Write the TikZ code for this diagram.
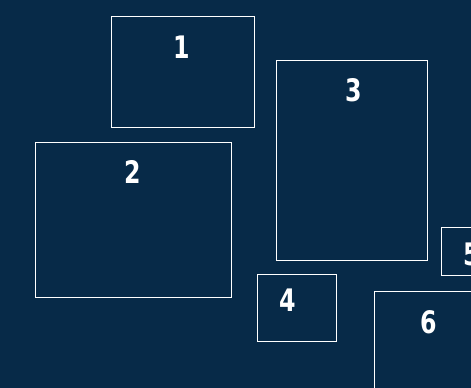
\documentclass[tikz,border=0pt]{standalone}
\usepackage{fontspec}
\newfontfamily\labelfont{DejaVu Sans Condensed}[BoldFont={DejaVu Sans Condensed Bold},BoldFeatures={FakeStretch=0.85}]
\definecolor{bgnavy}{RGB}{7,42,72}
\begin{document}
\begin{tikzpicture}[x=1pt,y=-1pt,
  panel/.style={draw=white,line width=1.1pt},
  num/.style={text=white,font=\labelfont\bfseries\fontsize{31}{31}\selectfont,inner sep=0pt,anchor=center}]
\fill[bgnavy] (0,0) rectangle (471,388);
\useasboundingbox (0,0) rectangle (471,388);
\begin{scope}
\clip (0,0) rectangle (471,388);
\draw[panel] (111.5,16.5) rectangle (254.5,127.5);
\draw[panel] (35.5,142.5) rectangle (231.5,297.5);
\draw[panel] (276.5,60.5) rectangle (427.5,260.5);
\draw[panel] (257.5,274.5) rectangle (336.5,341.5);
\draw[panel] (441.5,227.5) rectangle (500,275.5);
\draw[panel] (374.5,291.5) rectangle (490,400);
\node[num] (n1) at (182,47) {1};
\node[num] (n2) at (133,172) {2};
\node[num] (n3) at (354,90) {3};
\node[num] (n4) at (288,300) {4};
\node[num] (n5) at (472,254) {5};
\node[num] (n6) at (429,322) {6};
\end{scope}
\end{tikzpicture}
\end{document}
